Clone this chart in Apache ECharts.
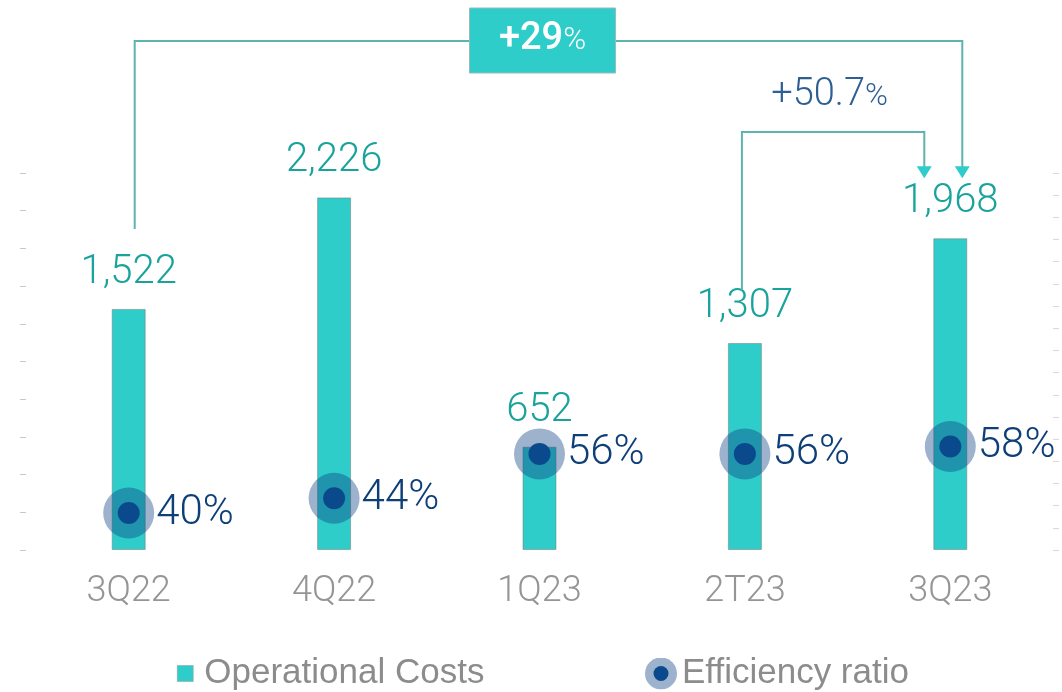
<!DOCTYPE html>
<html><head><meta charset="utf-8">
<script src="https://cdn.jsdelivr.net/npm/echarts@6.0.0/dist/echarts.min.js"></script>
<style>html,body{margin:0;padding:0;background:#fff;}#c{width:1062px;height:692px;}</style>
</head><body><div id="c"></div>
<script>
// ---- data ----
const categories = ['3Q22', '4Q22', '1Q23', '2T23', '3Q23'];
const operationalCosts = [1522, 2226, 652, 1307, 1968];
const efficiencyRatio = [40, 44, 56, 56, 58];
const yearlyChange = '+29';
const quarterlyChange = '+50.7';
const seriesNames = ['Operational Costs', 'Efficiency ratio'];

// ---- styles ----
const TEAL = '#2ECDCA';
const TEAL_TEXT = '#1AA39C';
const NAVY = '#0A4A8C';
const NAVY_TEXT = '#0F3F78';
const HALO = 'rgba(11,63,127,0.4)';
const LINE = '#5FB3AE';
const FONT = 'Roboto, "Noto Sans", sans-serif';
const LEG_FONT = '"Liberation Sans", sans-serif';

const haloSvg = '<svg xmlns="http://www.w3.org/2000/svg" width="32" height="32"><circle cx="16" cy="16" r="16" fill="rgba(11,63,127,0.4)"/><circle cx="16" cy="16" r="7.5" fill="#0A4A8C"/></svg>';
const haloIcon = 'image://data:image/svg+xml;charset=utf-8,' + encodeURIComponent(haloSvg);

const chart = echarts.init(document.getElementById('c'));

const option = {
  backgroundColor: '#fff',
  animation: false,
  grid: { left: 26, right: 9, top: 173, bottom: 142, containLabel: false },
  legend: [
    {
      left: 172, top: 651, itemWidth: 16, itemHeight: 16,
      data: [{ name: seriesNames[0], icon: 'rect' }],
      textStyle: { fontFamily: LEG_FONT, fontSize: 35, color: '#8C8C8C', padding: [0, 0, 0, 6] },
      itemStyle: { borderColor: '#999', borderWidth: 0.5 }
    },
    {
      left: 640, top: 651, itemWidth: 32, itemHeight: 32,
      data: [{ name: seriesNames[1], icon: haloIcon }],
      textStyle: { fontFamily: LEG_FONT, fontSize: 35, color: '#8C8C8C' }
    }
  ],
  xAxis: {
    type: 'category', data: categories,
    axisLine: { show: false }, axisTick: { show: false },
    axisLabel: { fontFamily: FONT, fontWeight: 300, fontSize: 36, color: '#959595', margin: 24 }
  },
  yAxis: [
    {
      type: 'value', min: 0, max: 2380, interval: 238, position: 'left',
      axisLine: { show: false }, axisLabel: { show: false }, splitLine: { show: false },
      axisTick: { show: true, length: 6, lineStyle: { color: '#C8C8C8', width: 1 } }
    },
    {
      type: 'value', min: 30, max: 132, interval: 6, position: 'right',
      axisLine: { show: false }, axisLabel: { show: false }, splitLine: { show: false },
      axisTick: { show: true, length: 6, lineStyle: { color: '#D8D8D8', width: 1 } }
    }
  ],
  series: [
    {
      name: seriesNames[0], type: 'bar', yAxisIndex: 0, data: operationalCosts,
      barWidth: 34, z: 2,
      itemStyle: { color: TEAL, borderColor: 'rgba(120,120,120,0.5)', borderWidth: 1 },
      label: {
        show: true, position: 'top', distance: 16,
        fontFamily: FONT, fontWeight: 300, fontSize: 40, color: TEAL_TEXT,
        formatter: p => p.value.toLocaleString('en-US')
      }
    },
    {
      name: seriesNames[1], type: 'scatter', yAxisIndex: 1, data: efficiencyRatio,
      symbol: 'circle', symbolSize: 51, z: 3,
      itemStyle: { color: HALO, opacity: 1 },
      label: {
        show: true, position: 'right', distance: 2,
        fontFamily: FONT, fontWeight: 300, fontSize: 42, color: NAVY_TEXT,
        formatter: p => p.value + '%'
      }
    },
    {
      name: seriesNames[1], type: 'scatter', yAxisIndex: 1, data: efficiencyRatio,
      symbol: 'circle', symbolSize: 22, z: 4,
      itemStyle: { color: NAVY, opacity: 1 }
    }
  ]
};
chart.setOption(option);

// ---- annotations anchored to the axes ----
function px(i) { return chart.convertToPixel({ xAxisIndex: 0 }, categories[i]); }
function py(v) { return chart.convertToPixel({ yAxisIndex: 0 }, v); }

const c0 = px(0), c3 = px(3), c4 = px(4);
const topY = py(0) - 509;          // horizontal line of the yearly bracket
const midY = py(0) - 418;          // horizontal line of the quarterly bracket
const tipY = py(operationalCosts[4]) - 60;

function arrow(x, y) {
  return { type: 'polygon', shape: { points: [[x - 7.5, y - 12], [x + 7.5, y - 12], [x, y]] }, style: { fill: TEAL }, z: 10 };
}

const b1x1 = c0 + 6, b1y1 = py(operationalCosts[0]) - 80, b1x2 = c4 + 12;
const b2x1 = c3 - 3, b2y1 = py(operationalCosts[3]) - 53, b2x2 = c4 - 26;
const boxCx = (c0 + c4) / 2 + 3;

chart.setOption({
  graphic: [
    { type: 'polyline', shape: { points: [[b1x1, b1y1], [b1x1, topY], [b1x2, topY], [b1x2, tipY - 10]] }, style: { stroke: LINE, lineWidth: 2, fill: null }, z: 9 },
    arrow(b1x2, tipY),
    { type: 'polyline', shape: { points: [[b2x1, b2y1], [b2x1, midY], [b2x2, midY], [b2x2, tipY - 10]] }, style: { stroke: LINE, lineWidth: 2, fill: null }, z: 9 },
    arrow(b2x2, tipY),
    { type: 'rect', shape: { x: boxCx - 73, y: topY - 33, width: 146, height: 65 }, style: { fill: TEAL, stroke: '#9BB', lineWidth: 1 }, z: 11 },
    {
      type: 'text', x: boxCx, y: topY - 2, z: 12,
      style: {
        text: '{a|' + yearlyChange + '}{b|%}', align: 'center', verticalAlign: 'middle',
        rich: {
          a: { fontFamily: FONT, fontWeight: 500, fontSize: 38, fill: '#fff' },
          b: { fontFamily: FONT, fontWeight: 300, fontSize: 31, fill: '#fff', padding: [4, 0, 0, 0] }
        }
      }
    },
    {
      type: 'text', x: (c3 + c4) / 2 - 18, y: midY - 37, z: 12,
      style: {
        text: '{a|' + quarterlyChange + '}{b|%}', align: 'center', verticalAlign: 'middle',
        rich: {
          a: { fontFamily: FONT, fontWeight: 300, fontSize: 38, fill: '#2D5F95' },
          b: { fontFamily: FONT, fontWeight: 300, fontSize: 31, fill: '#2D5F95', padding: [4, 0, 0, 0] }
        }
      }
    }
  ]
});
</script></body></html>
